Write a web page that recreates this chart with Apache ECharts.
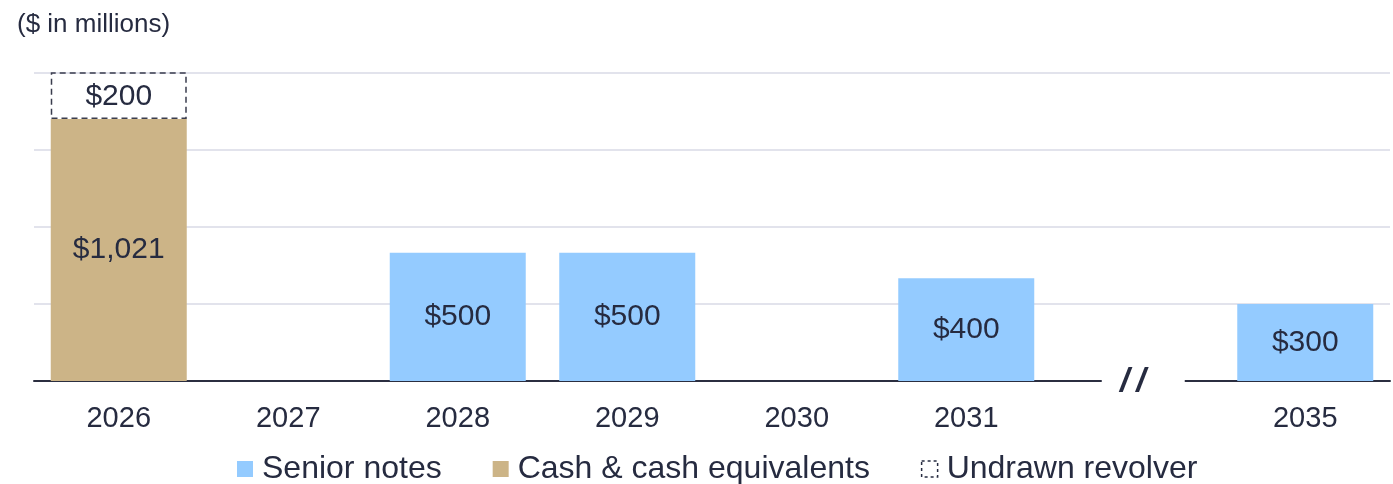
<!DOCTYPE html>
<html>
<head>
<meta charset="utf-8">
<title>Debt maturities</title>
<script src="https://cdn.jsdelivr.net/npm/echarts@6/dist/echarts.min.js"></script>
<style>
  body { margin: 0; background: #fff; }
</style>
</head>
<body>
<div id="MyChart" style="width: 1393px;height:484px"></div>
<script>
// 年份 (空的那一格是断轴 //)
const years = ['2026', '2027', '2028', '2029', '2030', '2031', '', '2035']
const seniorNotes = ['-', '-', 500, 500, '-', 400, '-', 300]
const cash = [1021, '-', '-', '-', '-', '-', '-', '-']
const revolver = [200, '-', '-', '-', '-', '-', '-', '-']
const yTicks = [0, 300, 600, 900, 1200]

const textColor = '#262b40'
const fontFamily = 'Liberation Sans, Arial, sans-serif'

let myChart = echarts.init(document.getElementById('MyChart'))

function money (p) {
  return '$' + p.value.toLocaleString('en-US')
}

let option = {
  animation: false,
  textStyle: { fontFamily: fontFamily },
  title: {
    text: '($ in millions)',
    left: 12,
    top: 7,
    textStyle: { color: textColor, fontSize: 26, fontWeight: 'normal', fontFamily: fontFamily }
  },
  legend: {
    left: 232,
    top: 448,
    itemWidth: 16,
    itemHeight: 16,
    itemGap: 51,
    textStyle: { color: textColor, fontSize: 32, fontFamily: fontFamily, padding: [0, 0, 0, 4] },
    data: [
      { name: 'Senior notes', icon: 'rect' },
      { name: 'Cash & cash equivalents', icon: 'rect' },
      {
        name: 'Undrawn revolver',
        icon: 'rect',
        itemStyle: { color: 'rgba(0,0,0,0)', borderColor: textColor, borderWidth: 1.5, borderType: [3, 3] }
      }
    ]
  },
  grid: {
    left: 34,
    right: 3,
    top: 73,
    bottom: 103
  },
  xAxis: {
    type: 'category',
    data: years,
    axisTick: { show: false },
    axisLine: { lineStyle: { color: '#2b2e40', width: 2 } },
    axisLabel: { color: textColor, fontSize: 29, margin: 23, fontFamily: fontFamily }
  },
  yAxis: {
    type: 'value',
    min: yTicks[0],
    max: yTicks[yTicks.length - 1],
    interval: yTicks[1] - yTicks[0],
    axisLabel: { show: false },
    axisLine: { show: false },
    axisTick: { show: false },
    splitLine: { lineStyle: { color: '#d8dae6', width: 1.5 } }
  },
  series: [
    {
      name: 'Senior notes',
      type: 'bar',
      stack: 'total',
      barWidth: 136,
      data: seniorNotes,
      itemStyle: { color: '#94cbff' },
      label: { show: true, position: 'inside', formatter: money, color: textColor, fontSize: 30, fontFamily: fontFamily }
    },
    {
      name: 'Cash & cash equivalents',
      type: 'bar',
      stack: 'total',
      barWidth: 136,
      data: cash,
      itemStyle: { color: '#ccb487' },
      label: { show: true, position: 'inside', formatter: money, color: textColor, fontSize: 30, fontFamily: fontFamily }
    },
    {
      name: 'Undrawn revolver',
      type: 'bar',
      stack: 'total',
      barWidth: 136,
      data: revolver,
      itemStyle: { color: 'rgba(0,0,0,0)', borderColor: '#3a3d4e', borderWidth: 1.5, borderType: [6, 4] },
      label: { show: true, position: 'inside', formatter: money, color: textColor, fontSize: 30, fontFamily: fontFamily, offset: [0, 1] }
    }
  ]
}
myChart.setOption(option)

// 断轴: 在空的那一格把横轴线盖掉, 画 //
let gapIdx = years.indexOf('')
let gapPt = myChart.convertToPixel({ xAxisIndex: 0, yAxisIndex: 0 }, [gapIdx, 0])
myChart.setOption({
  graphic: [
    {
      type: 'rect',
      z: 100,
      shape: { x: gapPt[0] - 34, y: gapPt[1] - 4, width: 83, height: 8 },
      style: { fill: '#fff' }
    },
    {
      type: 'text',
      z: 101,
      x: gapPt[0] - 3,
      y: gapPt[1] + 1,
      style: {
        text: '/\u2009/',
        font: 'italic bold 34px ' + fontFamily,
        fill: textColor,
        align: 'center',
        verticalAlign: 'middle'
      }
    }
  ]
})
</script>
</body>
</html>
